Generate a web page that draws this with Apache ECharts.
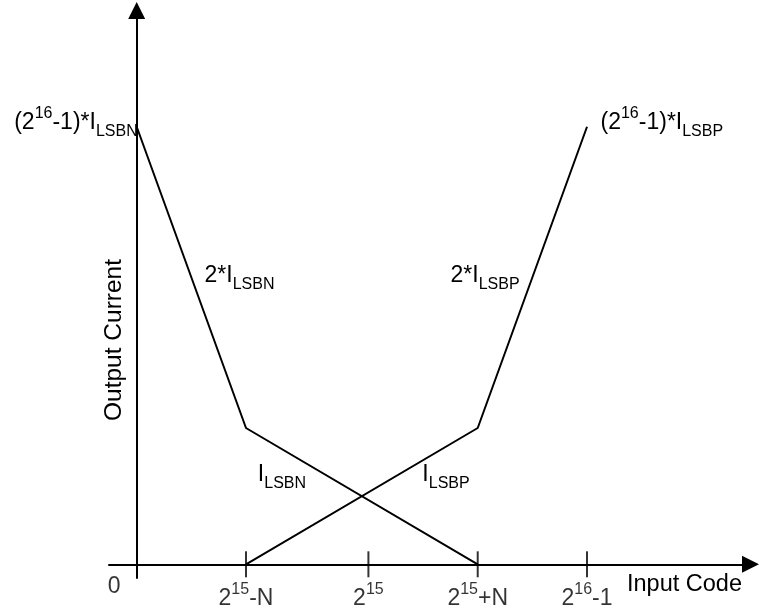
<!DOCTYPE html>
<html>
<head>
<meta charset="utf-8">
<script src="https://cdn.jsdelivr.net/npm/echarts@6/dist/echarts.min.js"></script>
<style>
  html, body { margin: 0; padding: 0; background: #fff; }
  #chart { width: 759px; height: 611px; }
</style>
</head>
<body>
<div id="chart"></div>
<script>
// Input code positions (schematic units) of the marked ticks
const xTicks = [0, 1, 2.12, 3.12, 4.12];
const xTickLabels = ['0', '2^15-N', '2^15', '2^15+N', '2^16-1'];

// Output current (schematic units, 1 = current at the knee)
const nSideCodes = [0, 1, 3.12];
const nSideCurrent = [3.21, 1, 0];
const pSideCodes = [1, 3.12, 4.12];
const pSideCurrent = [0, 1, 3.21];

// Texts
const endLabels = ['(2^16-1)*I_LSBN', '(2^16-1)*I_LSBP'];
const slopeLabels = ['2*I_LSBN', '2*I_LSBP', 'I_LSBN', 'I_LSBP'];
const xName = 'Input Code';
const yName = 'Output Current';

const FONT = 'Liberation Sans, Arial, Helvetica, sans-serif';

// "a^b" -> superscript, "a_b" -> subscript, as ECharts rich text
function toRich(s) {
  let out = '';
  const re = /\^(\w+)|_(\w+)|([^^_]+)/g;
  let m;
  while ((m = re.exec(s)) !== null) {
    if (m[1]) out += '{sup|' + m[1] + '}';
    else if (m[2]) out += '{sub|' + m[2] + '}';
    else out += '{m|' + m[3] + '}';
  }
  return out;
}

const rich = {
  m:   { fontSize: 23, lineHeight: 34, fontFamily: FONT, color: '#000' },
  sup: { fontSize: 16, lineHeight: 18, verticalAlign: 'top', fontFamily: FONT, color: '#000' },
  sub: { fontSize: 16, lineHeight: 16, verticalAlign: 'bottom', fontFamily: FONT, color: '#000' }
};

function richLabel(text, extra) {
  return Object.assign({
    show: true,
    formatter: toRich(text),
    rich: rich,
    color: '#000'
  }, extra);
}

const nData = nSideCodes.map((x, i) => [x, nSideCurrent[i]]);
const pData = pSideCodes.map((x, i) => [x, pSideCurrent[i]]);

const tickData = xTicks.map((x, i) => ({
  value: [x, 0],
  symbolSize: i === 0 ? 0 : [2, 26],
  label: richLabel(xTickLabels[i], {
    position: 'inside',
    offset: i === 0 ? [-22.5, 22] : [0, 34]
  })
}));

const lineStyle = { color: '#000', width: 2 };

const chart = echarts.init(document.getElementById('chart'), null, { renderer: 'canvas' });

chart.setOption({
  animation: false,
  backgroundColor: '#fff',
  grid: { left: 109, right: 8.5, top: 10.5, bottom: 33, outerBoundsMode: 'none' },
  xAxis: {
    type: 'value',
    min: -0.2534,
    max: 5.6157,
    axisLine: {
      show: true, onZero: true,
      lineStyle: { color: '#000', width: 2 },
      symbol: ['none', 'triangle'], symbolSize: [17, 17]
    },
    axisTick: { show: false },
    axisLabel: { show: false },
    splitLine: { show: false }
  },
  yAxis: {
    type: 'value',
    min: -0.1005,
    max: 4.063,
    axisLine: {
      show: true, onZero: true,
      lineStyle: { color: '#000', width: 2 },
      symbol: ['none', 'triangle'], symbolSize: [17, 17]
    },
    axisTick: { show: false },
    axisLabel: { show: false },
    splitLine: { show: false }
  },
  series: [
    {
      name: 'N side',
      type: 'line',
      data: nData,
      symbol: 'none',
      lineStyle: lineStyle,
      silent: true,
      markPoint: {
        symbol: 'circle', symbolSize: 1,
        itemStyle: { color: 'transparent' },
        silent: true,
        data: [
          { coord: nData[0], label: richLabel(endLabels[0], { position: 'left', distance: -1.5, offset: [0, -4.5] }) },
          { coord: [0.9405, 2.115], label: richLabel(slopeLabels[0], { position: 'inside' }) },
          { coord: [1.329, 0.655], label: richLabel(slopeLabels[2], { position: 'inside' }) }
        ]
      }
    },
    {
      name: 'P side',
      type: 'line',
      data: pData,
      symbol: 'none',
      lineStyle: lineStyle,
      silent: true,
      markPoint: {
        symbol: 'circle', symbolSize: 1,
        itemStyle: { color: 'transparent' },
        silent: true,
        data: [
          { coord: pData[2], label: richLabel(endLabels[1], { position: 'right', distance: 13, offset: [0, -4.5] }) },
          { coord: [3.187, 2.115], label: richLabel(slopeLabels[1], { position: 'inside' }) },
          { coord: [2.83, 0.655], label: richLabel(slopeLabels[3], { position: 'inside' }) }
        ]
      }
    },
    {
      name: 'ticks',
      type: 'scatter',
      data: tickData,
      symbol: 'rect',
      itemStyle: { color: '#000' },
      silent: true,
      z: 3
    }
  ],
  graphic: [
    {
      type: 'text',
      x: 627, y: 585,
      style: {
        text: xName, font: '23.5px ' + FONT, fill: '#000',
        textAlign: 'left', textVerticalAlign: 'middle'
      }
    },
    {
      type: 'text',
      x: 114, y: 340,
      rotation: Math.PI / 2,
      style: {
        text: yName, font: '24.5px ' + FONT, fill: '#000',
        textAlign: 'center', textVerticalAlign: 'middle'
      }
    }
  ]
});
</script>
</body>
</html>
